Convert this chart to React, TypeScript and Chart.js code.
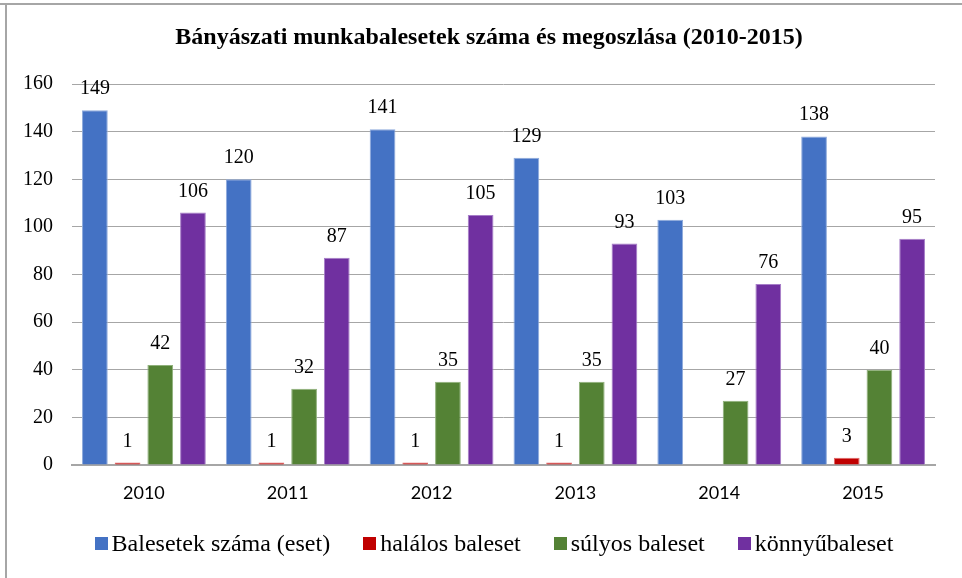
import React, { useEffect, useRef } from "react";
import { Chart, registerables } from "chart.js";

Chart.register(...registerables);

const categories = ["2010", "2011", "2012", "2013", "2014", "2015"];
const seriesNames = ["Balesetek száma (eset)", "halálos baleset", "súlyos baleset", "könnyűbaleset"];
const balesetek = [149, 120, 141, 129, 103, 138];
const halalos = [1, 1, 1, 1, null, 3];
const sulyos = [42, 32, 35, 35, 27, 40];
const konnyu = [106, 87, 105, 93, 76, 95];
const yTicks = [0, 20, 40, 60, 80, 100, 120, 140, 160];
const title = "Bányászati munkabalesetek száma és megoszlása (2010-2015)";

const colors = ["#4472C4", "#C00000", "#548235", "#7030A0"];
const borders = ["#8EAADC", "#E06666", "#8FB07A", "#A67DC8"];

const SERIF = "'Liberation Serif', 'Times New Roman', serif";

const labelPlugin = {
  id: "barLabels",
  afterDatasetsDraw(chart: any) {
    const ctx = chart.ctx;
    ctx.save();
    ctx.font = `20px ${SERIF}`;
    ctx.fillStyle = "#000";
    ctx.textAlign = "center";
    ctx.textBaseline = "alphabetic";
    chart.data.datasets.forEach((ds: any, di: number) => {
      const meta = chart.getDatasetMeta(di);
      meta.data.forEach((el: any, i: number) => {
        const v = ds.data[i];
        if (v === null || v === undefined) return;
        ctx.fillText(String(v), el.x, el.y - 16);
      });
    });
    ctx.restore();
  },
};

const titlePlugin = {
  id: "ownTitle",
  afterDraw(chart: any) {
    const ctx = chart.ctx;
    ctx.save();
    ctx.font = `bold 24px ${SERIF}`;
    ctx.fillStyle = "#000";
    ctx.textAlign = "center";
    ctx.textBaseline = "middle";
    ctx.fillText(title, 489, 38);
    ctx.restore();
  },
};

export default function App() {
  const ref = useRef<HTMLCanvasElement | null>(null);
  useEffect(() => {
    if (!ref.current) return;
    const data = [balesetek, halalos, sulyos, konnyu];
    const chart = new Chart(ref.current, {
      type: "bar",
      data: {
        labels: categories,
        datasets: seriesNames.map((n, i) => ({
          label: n,
          data: data[i] as any,
          backgroundColor: colors[i],
          borderColor: borders[i],
          borderWidth: 1,
          categoryPercentage: 0.909,
          barPercentage: 0.787,
        })),
      },
      options: {
        responsive: false,
        animation: false,
        devicePixelRatio: 1,
        layout: { padding: { left: 0, right: 27, top: 84, bottom: 73 } },
        plugins: {
          legend: { display: false },
          tooltip: { enabled: false },
          title: { display: false },
        },
        scales: {
          x: {
            grid: { display: false, drawTicks: false },
            border: { display: true, color: "#A6A6A6", width: 2 },
            ticks: {
              color: "#000",
              font: { family: "Lato, 'Liberation Sans', sans-serif", size: 18 },
              padding: 17,
            },
            afterFit: (s: any) => {
              s.height = 40;
            },
          },
          y: {
            min: 0,
            max: 160,
            afterBuildTicks: (s: any) => {
              s.ticks = yTicks.map((v) => ({ value: v }));
            },
            grid: { color: "#A6A6A6", lineWidth: 1, drawTicks: false },
            border: { display: false },
            ticks: {
              color: "#000",
              font: { family: SERIF, size: 20 },
              padding: 19,
            },
            afterFit: (s: any) => {
              s.width = 72;
            },
          },
        },
      },
      plugins: [labelPlugin, titlePlugin],
    });
    return () => chart.destroy();
  }, []);

  return (
    <div style={{ position: "fixed", left: 0, top: 0, width: 962, height: 578, background: "#fff", overflow: "hidden" }}>
      <canvas ref={ref} width={962} height={578} style={{ position: "absolute", left: 0, top: 0 }} />
      <div style={{ position: "absolute", left: 0, top: 3, width: 962, height: 2, background: "#A6A6A6" }} />
      <div style={{ position: "absolute", left: 5, top: 3, width: 2, height: 575, background: "#A6A6A6" }} />
      <div
        style={{
          position: "absolute",
          left: 26,
          top: 529,
          width: 936,
          display: "flex",
          justifyContent: "center",
          gap: 33,
          fontFamily: SERIF,
          fontSize: 24,
          lineHeight: "28px",
          color: "#000",
          whiteSpace: "nowrap",
        }}
      >
        {seriesNames.map((n, i) => (
          <div key={n} style={{ display: "flex", alignItems: "center" }}>
            <span style={{ display: "inline-block", width: 13, height: 13, background: colors[i], marginRight: 4 }} />
            <span>{n}</span>
          </div>
        ))}
      </div>
    </div>
  );
}
